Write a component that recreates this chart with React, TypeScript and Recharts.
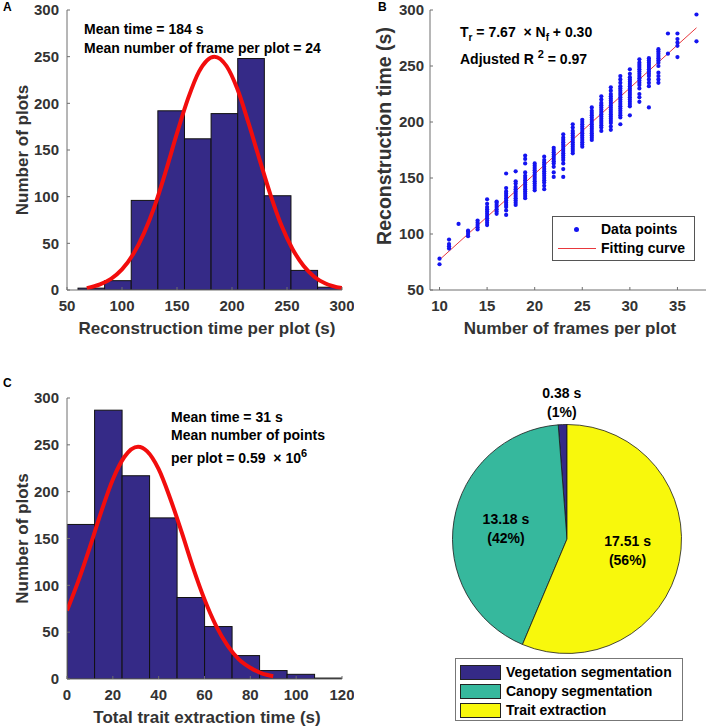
import React from 'react';
import { ComposedChart, Bar, Line, Scatter, XAxis, YAxis, PieChart, Pie, Cell } from 'recharts';

const FONT = 'Arial, "Liberation Sans", Helvetica, sans-serif';
const AXIS = '#6e6e6e';
const TICK_TEXT = '#333333';
const NAVY = '#352a87';
const RED = '#f20d0d';

// A: reconstruction time histogram
const reconBinMids = [72.1, 96.3, 120.5, 144.7, 168.9, 193.1, 217.3, 241.5, 265.7, 289.9];
const reconBinCounts = [2, 10, 96, 192, 162, 189, 248, 101, 21, 3];
const reconBinWidth = 24.2;
const reconFitX = [68, 80, 90, 100, 110, 120, 130, 140, 150, 160, 170, 184, 195, 205, 215, 225, 235, 245, 255, 265, 275, 285, 300];
const reconFitY = [2, 6, 12, 22, 38, 61, 91, 128, 168, 205, 234, 250, 240, 215, 179, 140, 102, 69, 44, 26, 14, 7, 2];
const reconXTicks = [50, 100, 150, 200, 250, 300];

// B: frames vs reconstruction time
const frameCounts = [10, 11, 12, 13, 14, 15, 16, 17, 18, 19, 20, 21, 22, 23, 24, 25, 26, 27, 28, 29, 30, 31, 32, 33, 34, 35, 37];
const frameTimes = [
  [73, 78],
  [87, 89, 91, 95],
  [109],
  [98, 100, 102, 103],
  [104, 106, 108, 110, 112],
  [108, 110, 112, 114, 116, 118, 120, 122, 124, 127, 131],
  [118, 120, 122, 124, 126, 128, 129],
  [117, 121, 124, 126, 128, 130, 132, 134, 136, 138, 141, 154],
  [126, 128, 130, 132, 134, 136, 138, 140, 142, 145, 147, 156],
  [132, 134, 136, 138, 140, 142, 144, 146, 148, 150, 152, 155, 163, 167, 170],
  [139, 141, 143, 145, 147, 149, 151, 153, 155, 157, 159, 161, 163],
  [140, 143, 146, 148, 150, 152, 154, 156, 158, 160, 162, 164, 166, 169],
  [151, 155, 160, 163, 165, 167, 169, 171, 173, 175, 177],
  [151, 158, 163, 166, 168, 170, 172, 174, 176, 178, 180, 182, 184, 186, 189],
  [172, 174, 176, 178, 180, 182, 184, 186, 188, 190, 192, 195, 198],
  [178, 180, 182, 184, 186, 188, 190, 192, 194, 196, 198, 200, 202],
  [184, 186, 188, 190, 192, 194, 196, 198, 200, 202, 204, 206, 208, 210, 213],
  [192, 195, 197, 199, 201, 203, 205, 207, 209, 211, 213, 215, 217, 220, 223],
  [193, 196, 199, 201, 203, 205, 207, 209, 211, 213, 215, 217, 219, 221, 223, 225, 228, 231],
  [198, 204, 206, 208, 210, 212, 214, 216, 218, 220, 222, 224, 226, 228, 230, 232, 235, 238, 241],
  [206, 214, 216, 218, 220, 222, 224, 226, 228, 230, 232, 234, 236, 238, 240, 243, 247],
  [218, 222, 225, 230, 233, 235, 237, 239, 241, 243, 245, 247, 249, 251, 253, 256],
  [213, 232, 235, 238, 241, 243, 245, 247, 249, 251, 253, 255, 257],
  [235, 238, 241, 244, 250, 253, 255, 257, 259, 261, 263, 265],
  [261, 279],
  [258, 268, 271, 274, 279],
  [272, 296],
];
const fitLineX = [10, 37];
const fitLineY = [77.0, 284.1];
const frameXTicks = [10, 15, 20, 25, 30, 35];
const timeYTicks = [50, 100, 150, 200, 250, 300];

// C: trait extraction time histogram
const traitBinMids = [6, 18, 30, 42, 54, 66, 78, 90, 102, 114];
const traitBinCounts = [165, 287, 217, 172, 87, 56, 25, 9, 5, 1];
const traitBinWidth = 12;
const traitFitX = [0, 5, 10, 15, 20, 25, 31, 35, 40, 45, 50, 55, 60, 65, 70, 75, 80, 85, 90];
const traitFitY = [73, 105, 141, 179, 213, 237, 248, 243, 224, 193, 157, 119, 85, 57, 36, 21, 12, 6, 3];
const traitXTicks = [0, 20, 40, 60, 80, 100, 120];

// D: time per processing step
const stepNames = ['Vegetation segmentation', 'Canopy segmentation', 'Trait extraction'];
const stepTimes = [0.38, 13.18, 17.51];
const stepColors = ['#352a87', '#36b89d', '#f8f80c'];

const countTicks = [0, 50, 100, 150, 200, 250, 300];

const PANEL_W = 354;
const PLOT_LEFT = 67;
const PLOT_RIGHT_GAP = 12;

const tickStyle = { fill: TICK_TEXT, fontSize: 15, fontWeight: 'bold', fontFamily: FONT };
const titleStyle = { fill: TICK_TEXT, fontSize: 17, fontWeight: 'bold', fontFamily: FONT };
const noteStyle: React.CSSProperties = {
  position: 'absolute', fontFamily: FONT, fontWeight: 'bold', fontSize: 14, color: '#000', whiteSpace: 'nowrap', lineHeight: '16px',
};
const supStyle: React.CSSProperties = { fontSize: 11, position: 'relative', top: -6 };
const subStyle: React.CSSProperties = { fontSize: 10, position: 'relative', top: 4 };

const xTitle = (text: string, cx: number, y: number) => () => (
  <text x={cx} y={y} textAnchor="middle" style={titleStyle as any}>{text}</text>
);
const yTitle = (text: string, cx: number, cy: number, size = 17) => () => (
  <text x={cx} y={cy} textAnchor="middle" dominantBaseline="central" transform={`rotate(-90, ${cx}, ${cy})`}
    style={{ ...(titleStyle as any), fontSize: size }}>{text}</text>
);

// box axes (top/right copies carry only inward tick marks)
function boxAxes(xDomain: number[], xTicks: number[], yDomain: number[], yTicks: number[], xH: number, yW: number, yMargin: number, xLabel: any, yLabel: any) {
  return [
    <XAxis key="xb" xAxisId={0} type="number" dataKey="x" domain={xDomain} ticks={xTicks} interval={0} allowDataOverflow
      height={xH} tickSize={-3} tickMargin={13} axisLine={{ stroke: AXIS }} tickLine={{ stroke: AXIS }} tick={tickStyle} label={xLabel} />,
    <XAxis key="xt" xAxisId="top" orientation="top" type="number" domain={xDomain} ticks={xTicks} interval={0} allowDataOverflow
      height={0} tickSize={-3} tick={false} axisLine={{ stroke: AXIS }} tickLine={{ stroke: AXIS }} />,
    <YAxis key="yl" yAxisId={0} type="number" dataKey="y" domain={yDomain} ticks={yTicks} interval={0} allowDataOverflow
      width={yW} tickSize={-3} tickMargin={yMargin} axisLine={{ stroke: AXIS }} tickLine={{ stroke: AXIS }} tick={tickStyle} label={yLabel} />,
    <YAxis key="yr" yAxisId="right" orientation="right" type="number" domain={yDomain} ticks={yTicks} interval={0} allowDataOverflow
      width={0} tickSize={-3} tick={false} axisLine={{ stroke: AXIS }} tickLine={{ stroke: AXIS }} />,
  ];
}

interface HistProps {
  mids: number[]; counts: number[]; binWidth: number; fitX: number[]; fitY: number[];
  xDomain: number[]; xTicks: number[]; height: number; top: number; xAxisH: number; xLabel: string; yLabelCx: number;
}

function Histogram({ mids, counts, binWidth, fitX, fitY, xDomain, xTicks, height, top, xAxisH, xLabel, yLabelCx }: HistProps) {
  const bins = mids.map((m, i) => ({ x: m, y: counts[i] }));
  const fit = fitX.map((x, i) => ({ x, y: fitY[i] }));
  const plotW = PANEL_W - PLOT_LEFT - PLOT_RIGHT_GAP;
  const plotH = height - top - xAxisH;
  // bin width in pixels, from the x scale's units-per-pixel
  const barPx = (binWidth / (xDomain[1] - xDomain[0])) * plotW;
  const binShape = (p: any) => (
    <rect x={p.x + p.width / 2 - barPx / 2} y={p.y} width={barPx} height={p.height} fill={NAVY} stroke="#111" strokeWidth={1} />
  );
  return (
    <ComposedChart width={PANEL_W} height={height} data={bins} margin={{ top, right: PLOT_RIGHT_GAP, bottom: 0, left: 0 }}>
      {boxAxes(xDomain, xTicks, [0, 300], countTicks, xAxisH, PLOT_LEFT, 11,
        { content: xTitle(xLabel, 207, top + plotH + 44) },
        { content: yTitle('Number of plots', yLabelCx, top + plotH / 2) })}
      <Bar dataKey="y" fill={NAVY} shape={binShape} isAnimationActive={false} />
      <Line data={fit} dataKey="y" type="monotone" stroke={RED} strokeWidth={4} dot={false} isAnimationActive={false} />
    </ComposedChart>
  );
}

function FramesScatter() {
  const points = frameCounts.flatMap((f, i) => frameTimes[i].map((t) => ({ x: f, y: t })));
  const fit = fitLineX.map((x, i) => ({ x, y: fitLineY[i] }));
  return (
    <ComposedChart width={PANEL_W} height={340} margin={{ top: 10, right: 2, bottom: 0, left: 0 }}>
      {boxAxes([9, 38], frameXTicks, [50, 300], timeYTicks, 50, 76, 9,
        { content: xTitle('Number of frames per plot', 216, 334) },
        { content: yTitle('Reconstruction time (s)', 30, 136, 19.5) })}
      <Scatter data={points} fill="#1414f0" isAnimationActive={false}
        shape={(p: any) => <circle cx={p.cx} cy={p.cy} r={2.1} fill="#1414f0" />} />
      <Line data={fit} dataKey="y" type="linear" stroke="#e8383d" strokeWidth={1} dot={false} isAnimationActive={false} />
    </ComposedChart>
  );
}

const RAD = Math.PI / 180;
function pieLabel(p: any) {
  const r = p.percent < 0.05 ? p.outerRadius * 1.19 : p.outerRadius * 0.54;
  const x = p.cx + r * Math.cos(-p.midAngle * RAD);
  const y = p.cy + r * Math.sin(-p.midAngle * RAD);
  return (
    <text textAnchor="middle" style={{ fontFamily: FONT, fontWeight: 'bold', fontSize: 14, fill: '#000' }}>
      <tspan x={x} y={y - 5}>{`${p.value.toFixed(2)} s`}</tspan>
      <tspan x={x} y={y + 14}>{`(${Math.round(p.percent * 100)}%)`}</tspan>
    </text>
  );
}

function StepPie() {
  const data = stepNames.map((name, i) => ({ name, value: stepTimes[i] }));
  return (
    <PieChart width={PANEL_W} height={387} margin={{ top: 0, right: 0, bottom: 0, left: 0 }}>
      <Pie data={data} dataKey="value" nameKey="name" cx={213} cy={199} outerRadius={114.5} startAngle={90} endAngle={450}
        stroke="#1a1a1a" strokeWidth={0.8} label={pieLabel} labelLine={false} isAnimationActive={false}>
        {data.map((d, i) => <Cell key={d.name} fill={stepColors[i]} />)}
      </Pie>
    </PieChart>
  );
}

const letter: React.CSSProperties = { position: 'absolute', fontFamily: FONT, fontWeight: 'bold', fontSize: 12, color: '#000' };

export default function App() {
  return (
    <div style={{ position: 'absolute', left: 0, top: 0, width: 708, height: 727, background: '#fff', overflow: 'hidden' }}>
      {/* A */}
      <div style={{ position: 'absolute', left: 0, top: 0 }}>
        <Histogram mids={reconBinMids} counts={reconBinCounts} binWidth={reconBinWidth} fitX={reconFitX} fitY={reconFitY}
          xDomain={[50, 300]} xTicks={reconXTicks} height={340} top={10} xAxisH={50}
          xLabel="Reconstruction time per plot (s)" yLabelCx={22} />
      </div>
      <div style={{ ...letter, left: 3, top: 0 }}>A</div>
      <div style={{ ...noteStyle, left: 84, top: 21 }}>Mean time = 184 s</div>
      <div style={{ ...noteStyle, left: 84, top: 40 }}>Mean number of frame per plot = 24</div>

      {/* B */}
      <div style={{ position: 'absolute', left: 354, top: 0 }}>
        <FramesScatter />
      </div>
      <div style={{ ...letter, left: 378, top: 0 }}>B</div>
      <div style={{ ...noteStyle, left: 460, top: 24 }}>
        T<span style={subStyle}>r</span> = 7.67 &nbsp;× N<span style={subStyle}>f</span> + 0.30
      </div>
      <div style={{ ...noteStyle, left: 460, top: 51 }}>
        Adjusted R <span style={supStyle}>2</span> = 0.97
      </div>
      <div style={{ position: 'absolute', left: 552, top: 216, width: 141, height: 43, border: '1px solid #555', background: '#fff',
        fontFamily: FONT, fontWeight: 'bold', fontSize: 14, color: '#000' }}>
        <div style={{ position: 'absolute', left: 21, top: 10, width: 5, height: 5, borderRadius: 3, background: '#1414f0' }} />
        <div style={{ position: 'absolute', left: 48, top: 4 }}>Data points</div>
        <div style={{ position: 'absolute', left: 5, top: 31, width: 38, height: 1, background: '#e8383d' }} />
        <div style={{ position: 'absolute', left: 48, top: 23 }}>Fitting curve</div>
      </div>

      {/* C */}
      <div style={{ position: 'absolute', left: 0, top: 340 }}>
        <Histogram mids={traitBinMids} counts={traitBinCounts} binWidth={traitBinWidth} fitX={traitFitX} fitY={traitFitY}
          xDomain={[0, 120]} xTicks={traitXTicks} height={387} top={58} xAxisH={48}
          xLabel="Total trait extraction time (s)" yLabelCx={22} />
      </div>
      <div style={{ ...letter, left: 3, top: 376 }}>C</div>
      <div style={{ ...noteStyle, left: 171, top: 409 }}>Mean time = 31 s</div>
      <div style={{ ...noteStyle, left: 171, top: 427 }}>Mean number of points</div>
      <div style={{ ...noteStyle, left: 171, top: 450 }}>
        per plot = 0.59 &nbsp;× 10<span style={supStyle}>6</span>
      </div>

      {/* D */}
      <div style={{ position: 'absolute', left: 354, top: 340 }}>
        <StepPie />
      </div>
      <div style={{ position: 'absolute', left: 455, top: 658, width: 226, height: 61, border: '1px solid #777', background: '#fff',
        fontFamily: FONT, fontWeight: 'bold', fontSize: 14, color: '#000' }}>
        {stepNames.map((n, i) => (
          <div key={n} style={{ position: 'absolute', left: 4, top: 5 + i * 19, height: 16, display: 'flex', alignItems: 'center' }}>
            <div style={{ width: 39, height: 13, background: stepColors[i], border: '1px solid #222', marginRight: 5 }} />
            <span>{n}</span>
          </div>
        ))}
      </div>
    </div>
  );
}
